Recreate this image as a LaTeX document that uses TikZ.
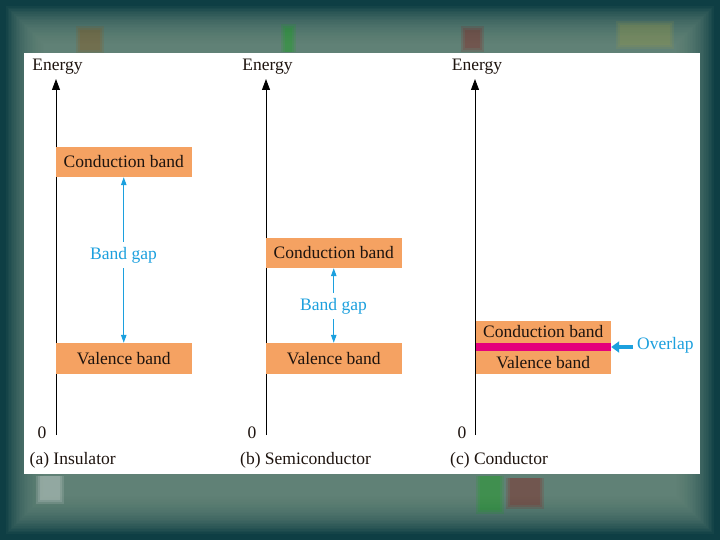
\documentclass[tikz,border=0pt]{standalone}
\usepackage{fontspec}
\setmainfont{Liberation Serif}
\usetikzlibrary{arrows.meta}
\definecolor{bandorange}{RGB}{245,162,98}
\definecolor{overlapmag}{RGB}{228,0,124}
\definecolor{gapblue}{RGB}{28,160,222}
\definecolor{bgdark}{RGB}{14,62,68}
\definecolor{bglight}{RGB}{120,150,135}
\definecolor{txt}{RGB}{30,20,15}
\tikzset{
  band/.style={fill=bandorange, inner sep=0pt, minimum width=135.5pt, text=txt},
  axisline/.style={line width=0.9pt, -{Triangle[length=11pt,width=8pt]}},
  gaparrow/.style={draw=gapblue, line width=1pt, -{Triangle[length=8pt,width=5.5pt]}},
  gaplabel/.style={text=gapblue, inner sep=1pt, minimum height=26pt},
  lbl/.style={text=txt, inner sep=0pt},
  blob/.style={opacity=0.12},
}
\begin{document}
\begin{tikzpicture}[x=1pt,y=-1pt,font=\fontsize{17.5}{20}\selectfont]
\useasboundingbox (0,0) rectangle (720,540);
% background
\fill[bgdark] (0,0) rectangle (720,540);
\foreach \i in {0,...,24}{
  \fill[bglight, opacity=0.07] (6+\i*1.6,6+\i*1.6) rectangle (714-\i*1.6,534-\i*1.6);
}
\foreach \d in {0,2,4}{
  \fill[green!70!black, blob] (285-\d,28-\d) rectangle (292+\d,52);
  \fill[red!60!black, blob] (465-\d,30-\d) rectangle (480+\d,48+\d);
  \fill[yellow!60!black, blob] (620-\d,25-\d) rectangle (670+\d,45+\d);
  \fill[orange!60!black, blob] (80-\d,30-\d) rectangle (100+\d,50+\d);
  \fill[green!70!black, blob] (480-\d,476) rectangle (500+\d,510+\d);
  \fill[red!60!black, blob] (510-\d,478) rectangle (540+\d,505+\d);
  \fill[white, blob] (40-\d,476) rectangle (60+\d,500+\d);
}
% white panel
\fill[white] (23.5,53.5) rectangle (699.5,473.5);

% ---------- (a) Insulator ----------
\coordinate (a0) at (56,435);
\coordinate (atop) at (56,79);
\draw[axisline] (a0) -- (atop);
\node[lbl] (aE) at (57.5,66.5) {Energy};
\node[lbl] (aZ) at (42,433) {0};
\node[lbl, anchor=west] (aC) at (29.5,460) {(a) Insulator};
\node[band, minimum height=30pt] (acb) at (123.75,162) {Conduction band};
\node[band, minimum height=31pt] (avb) at (123.75,358.5) {Valence band};
\node[gaplabel] (agap) at (123.5,255) {Band gap};
\draw[gaparrow] (agap.north -| acb.south) -- (acb.south);
\draw[gaparrow] (agap.south -| avb.north) -- (avb.north);

% ---------- (b) Semiconductor ----------
\coordinate (b0) at (266,435);
\coordinate (btop) at (266,79);
\draw[axisline] (b0) -- (btop);
\node[lbl] (bE) at (267.5,66.5) {Energy};
\node[lbl] (bZ) at (252,433) {0};
\node[lbl, anchor=west] (bC) at (240,460) {(b) Semiconductor};
\node[band, minimum height=30pt] (bcb) at (333.75,253) {Conduction band};
\node[band, minimum height=31pt] (bvb) at (333.75,358.5) {Valence band};
\node[gaplabel] (bgap) at (333.5,306) {Band gap};
\draw[gaparrow] (bgap.north -| bcb.south) -- (bcb.south);
\draw[gaparrow] (bgap.south -| bvb.north) -- (bvb.north);

% ---------- (c) Conductor ----------
\coordinate (c0) at (475,435);
\coordinate (ctop) at (475,79);
\draw[axisline] (c0) -- (ctop);
\node[lbl] (cE) at (477,66.5) {Energy};
\node[lbl] (cZ) at (462,433) {0};
\node[lbl, anchor=west] (cC) at (450,460) {(c) Conductor};
\node[band, minimum height=22pt] (ccb) at (543.25,332) {Conduction band};
\node[band, minimum height=23pt] (cvb) at (543.25,362.5) {Valence band};
\node[fill=overlapmag, inner sep=0pt, minimum width=135.5pt, minimum height=8pt] (cov) at (543.25,347) {};
\node[text=gapblue, anchor=west, inner sep=0pt] (covl) at (637,345.5) {Overlap};
\coordinate (covs) at (633,347);
\draw[draw=gapblue, line width=3.5pt, -{Triangle[length=8pt,width=11pt]}] (covs) -- (cov.east);
\end{tikzpicture}
\end{document}
